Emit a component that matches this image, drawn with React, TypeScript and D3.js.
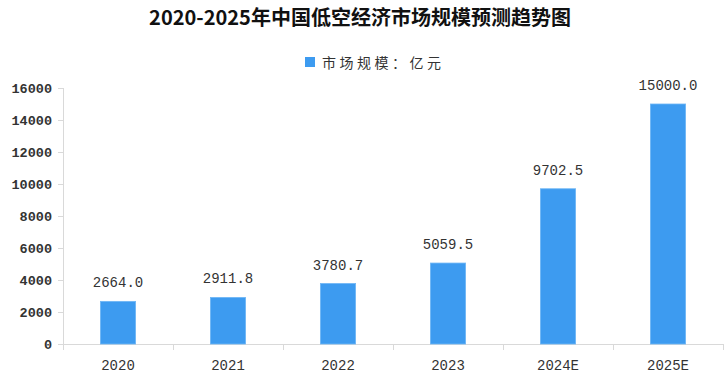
import React from "react";
import * as d3 from "d3";

const categories = ["2020", "2021", "2022", "2023", "2024E", "2025E"];
const values = [2664.0, 2911.8, 3780.7, 5059.5, 9702.5, 15000.0];
const yTicks = [0, 2000, 4000, 6000, 8000, 10000, 12000, 14000, 16000];
const title = "2020-2025年中国低空经济市场规模预测趋势图";
const legendLabel = "市场规模：亿元";

const W = 725;
const H = 375;
const BAR = "#3d9bf0";
const AXIS = "#d9d9d9";
const TEXT = "#333333";
const MONO = "'Liberation Mono', 'DejaVu Sans Mono', monospace";
const CJK = "'Noto Sans CJK SC', sans-serif";

export default function App() {
  const x = d3.scaleBand<string>().domain(categories).range([63, 723]).paddingInner(0.68).paddingOuter(0.34);
  const y = d3.scaleLinear().domain([0, 16000]).range([344, 88]);
  const step = x.step();
  const x0 = 63;
  const boundaries = d3.range(categories.length + 1).map((i) => x0 + i * step);

  return (
    <svg width={W} height={H} style={{ position: "absolute", left: 0, top: 0, background: "#fff" }}>
      <text x={360} y={25} textAnchor="middle" fontFamily={CJK} fontWeight="bold" fontSize={20} fill="#111">
        {title}
      </text>
      <rect x={305} y={57} width={10} height={10} fill={BAR} />
      <text x={322} y={67.5} fontFamily={CJK} fontSize={14} fill={TEXT} letterSpacing={3.5}>
        {legendLabel}
      </text>
      {/* y axis */}
      <line x1={63.5} x2={63.5} y1={y(16000)} y2={350} stroke={AXIS} />
      {yTicks.map((t) => (
        <g key={t}>
          <line x1={58} x2={63} y1={Math.round(y(t)) + 0.5} y2={Math.round(y(t)) + 0.5} stroke={AXIS} />
          <text x={52} y={y(t) + 4.5} textAnchor="end" fontFamily={MONO} fontSize={13.5} fontWeight="bold" fill="#333">
            {t}
          </text>
        </g>
      ))}
      {/* x axis */}
      <line x1={58} x2={723} y1={344.5} y2={344.5} stroke={AXIS} />
      {boundaries.slice(1).map((b, i) => (
        <line key={i} x1={Math.round(b) + 0.5} x2={Math.round(b) + 0.5} y1={344} y2={350} stroke={AXIS} />
      ))}
      {categories.map((c, i) => {
        const bx = x(c)!;
        const bw = x.bandwidth();
        const v = values[i];
        return (
          <g key={c}>
            <rect x={bx} y={y(v)} width={bw} height={y(0) - y(v)} fill={BAR} stroke="#6fb6f5" strokeWidth={0.8} />
            <text x={bx + bw / 2} y={y(v) - 14} textAnchor="middle" fontFamily={MONO} fontSize={14} fill={TEXT}>
              {v.toFixed(1)}
            </text>
            <text x={bx + bw / 2} y={370} textAnchor="middle" fontFamily={MONO} fontSize={14} fill={TEXT}>
              {c}
            </text>
          </g>
        );
      })}
    </svg>
  );
}
